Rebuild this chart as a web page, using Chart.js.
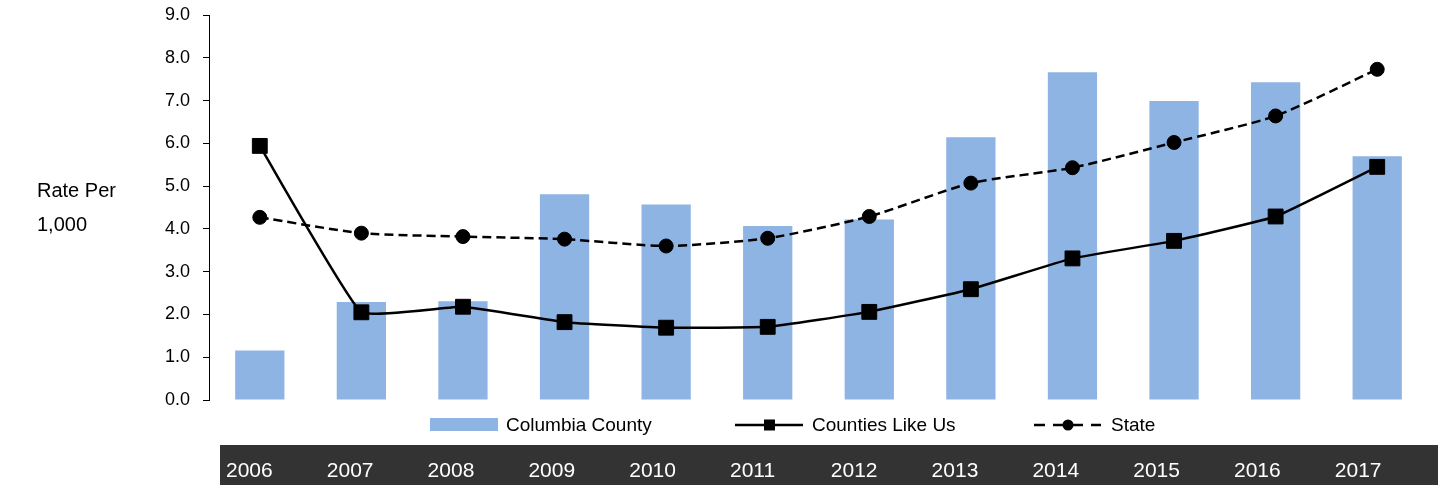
<!DOCTYPE html>
<html>
<head>
<meta charset="utf-8">
<script src="https://cdn.jsdelivr.net/npm/chart.js@4"></script>
<style>
  html, body { margin: 0; padding: 0; background: #ffffff; }
  #wrap { width: 1438px; height: 485px; position: relative; }
</style>
</head>
<body>
<div id="wrap"><canvas id="c"></canvas></div>
<script>
const years = ['2006','2007','2008','2009','2010','2011','2012','2013','2014','2015','2016','2017'];
const columbiaCounty = [1.16, 2.29, 2.31, 4.81, 4.57, 4.07, 4.22, 6.14, 7.66, 6.99, 7.43, 5.70];
const countiesLikeUs = [5.94, 2.05, 2.18, 1.82, 1.69, 1.71, 2.06, 2.59, 3.31, 3.72, 4.29, 5.45];
const stateRate = [4.27, 3.90, 3.82, 3.76, 3.60, 3.78, 4.29, 5.07, 5.43, 6.02, 6.64, 7.73];
const yTicks = [0, 1, 2, 3, 4, 5, 6, 7, 8, 9];
const yTitle = ['Rate Per', '1,000'];
const seriesNames = ['Columbia County', 'Counties Like Us', 'State'];

const FONT = '"Liberation Sans", Arial, sans-serif';
const BAR_COLOR = '#8EB4E3';

const extras = {
  id: 'extras',
  afterDraw(chart) {
    const ctx = chart.ctx;
    ctx.save();
    // Y axis title (horizontal)
    ctx.fillStyle = '#000';
    ctx.font = '20px ' + FONT;
    ctx.textAlign = 'left';
    ctx.textBaseline = 'alphabetic';
    ctx.fillText(yTitle[0], 37, 197);
    ctx.fillText(yTitle[1], 37, 231);

    // Legend
    const ly = 425;
    ctx.font = '19px ' + FONT;
    ctx.fillStyle = BAR_COLOR;
    ctx.fillRect(430, 418, 68, 13);
    ctx.fillStyle = '#000';
    ctx.fillText(seriesNames[0], 506, 431);

    ctx.strokeStyle = '#000';
    ctx.lineWidth = 2.5;
    ctx.beginPath(); ctx.moveTo(735, ly); ctx.lineTo(803, ly); ctx.stroke();
    ctx.fillRect(764, ly - 5.5, 11, 11);
    ctx.fillText(seriesNames[1], 812, 431);

    ctx.setLineDash([11, 8]);
    ctx.beginPath(); ctx.moveTo(1034, ly); ctx.lineTo(1101, ly); ctx.stroke();
    ctx.setLineDash([]);
    ctx.beginPath(); ctx.arc(1068, ly, 5.5, 0, Math.PI * 2); ctx.fill();
    ctx.fillText(seriesNames[2], 1111, 431);

    // Year band
    ctx.fillStyle = '#333333';
    ctx.fillRect(220, 445, 1218, 40);
    ctx.fillStyle = '#ffffff';
    ctx.font = '21px ' + FONT;
    years.forEach((y, i) => {
      ctx.fillText(y, 226 + i * 100.8, 477);
    });
    ctx.restore();
  }
};

new Chart(document.getElementById('c'), {
  type: 'bar',
  data: {
    labels: years,
    datasets: [
      {
        type: 'line',
        label: seriesNames[1],
        data: countiesLikeUs,
        borderColor: '#000',
        backgroundColor: '#000',
        borderWidth: 2.5,
        tension: 0.1,
        pointStyle: 'rect',
        pointRadius: 10.5,
        pointBorderWidth: 1,
        pointBackgroundColor: '#000',
        pointBorderColor: '#000',
        clip: false,
        order: 1
      },
      {
        type: 'line',
        label: seriesNames[2],
        data: stateRate,
        borderColor: '#000',
        backgroundColor: '#000',
        borderWidth: 2.5,
        borderDash: [9, 5],
        tension: 0.2,
        pointStyle: 'circle',
        pointRadius: 7,
        pointBorderWidth: 1,
        pointBackgroundColor: '#000',
        pointBorderColor: '#000',
        clip: false,
        order: 2
      },
      {
        type: 'bar',
        label: seriesNames[0],
        data: columbiaCounty,
        backgroundColor: BAR_COLOR,
        borderWidth: 0,
        categoryPercentage: 1.0,
        barPercentage: 0.485,
        order: 3
      }
    ]
  },
  options: {
    responsive: true,
    maintainAspectRatio: false,
    animation: false,
    devicePixelRatio: 1,
    layout: { autoPadding: false, padding: { left: 0, top: 15, right: 10, bottom: 85 } },
    plugins: { legend: { display: false }, tooltip: { enabled: false } },
    scales: {
      x: {
        display: false,
        offset: true
      },
      y: {
        min: 0,
        max: 9,
        afterBuildTicks(scale) { scale.ticks = yTicks.map(v => ({ value: v })); },
        afterFit(scale) {
          scale.width = 209;
          scale.paddingTop = 0;
          scale.paddingBottom = 0;
        },
        ticks: {
          color: '#000',
          font: { family: FONT, size: 18 },
          padding: 13,
          callback: v => Number(v).toFixed(1)
        },
        grid: {
          drawOnChartArea: false,
          drawTicks: true,
          tickLength: 6,
          color: '#000',
          lineWidth: 1
        },
        border: { display: true, color: '#000', width: 1 }
      }
    }
  },
  plugins: [extras]
});
</script>
</body>
</html>
